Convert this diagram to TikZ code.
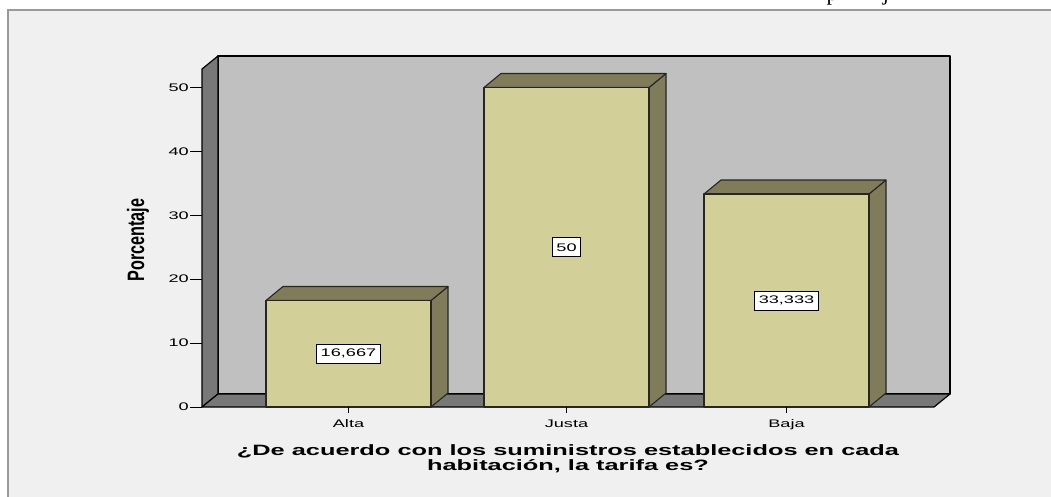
\documentclass[tikz,border=0pt]{standalone}
\usepackage{fontspec}
\setmainfont{Liberation Sans}
\newfontfamily\docserif{Liberation Serif}
\usepackage{graphicx}
\definecolor{bgfill}{HTML}{F0F0F0}
\definecolor{framegray}{HTML}{9A9A9A}
\definecolor{backwall}{HTML}{C0C0C0}
\definecolor{sidewall}{HTML}{787878}
\definecolor{barface}{HTML}{D3CF98}
\definecolor{barshade}{HTML}{807C5A}
\tikzset{
  wallpart/.style={draw=black, line width=1.2pt, line join=round},
  barfront/.style={fill=barface, draw=black!85, line width=1.1pt, line join=round},
  barside/.style={fill=barshade, draw=black!85, line width=1.1pt, line join=round},
  axistick/.style={draw=black, line width=1pt},
  ticklbl/.style={font=\fontsize{11}{13}\selectfont, inner sep=0pt},
  vallbl/.style={draw=black, fill=white, line width=0.8pt, font=\fontsize{11}{13}\selectfont,
                 inner xsep=4pt, inner ysep=0pt, minimum height=19pt},
  titlelbl/.style={font=\bfseries\fontsize{15}{16}\selectfont, inner sep=0pt, anchor=base},
}
\begin{document}
\begin{tikzpicture}[x=1pt,y=-1pt]
\useasboundingbox (0,0) rectangle (1051,497);
\clip (0,0) rectangle (1051,497);
\fill[white] (0,0) rectangle (1051,497);
% fragments of text above the chart
\node[font=\docserif\fontsize{22}{22}\selectfont, anchor=base, inner sep=0pt] (fragp) at (832,1) {p};
\node[font=\docserif\fontsize{22}{22}\selectfont, anchor=base, inner sep=0pt] (fragj) at (886,1) {j};
% chart frame
\draw[draw=framegray, line width=1.6pt, fill=bgfill] (8,10) rectangle (1080,530);
% walls
\draw[wallpart, fill=backwall] (218,56) rectangle (950,394);
\draw[wallpart, fill=sidewall] (202,407) -- (202,69) -- (218,56) -- (218,394) -- cycle;
\draw[wallpart, fill=sidewall] (202,407) -- (218,394) -- (950,394) -- (934,407) -- cycle;
% y axis ticks and labels
\foreach \v in {0,10,20,30,40,50}{
  \pgfmathsetmacro\yy{407-\v*6.39}
  \draw[axistick] (190,\yy) -- (202,\yy);
  \node[ticklbl, anchor=east] (y\v) at (189,\yy) {\scalebox{1.65}[1]{\v}};
}
% bars
\foreach \n/\xl/\v/\t/\c in {alta/266/16.667/{16,667}/Alta, justa/484/50/{50}/Justa, baja/704/33.333/{33,333}/Baja}{
  \pgfmathsetmacro\ytop{407-\v*6.39}
  \pgfmathsetmacro\ymid{407-\v*3.195}
  \pgfmathsetmacro\xr{\xl+165}
  \pgfmathsetmacro\xc{\xl+82.5}
  \draw[barside] (\xr,407) -- (\xr+17,393) -- (\xr+17,\ytop-14) -- (\xr,\ytop) -- cycle;
  \draw[barside] (\xl,\ytop) -- (\xl+17,\ytop-14) -- (\xr+17,\ytop-14) -- (\xr,\ytop) -- cycle;
  \draw[barfront] (\xl,\ytop) rectangle (\xr,407);
  \node[vallbl] (v-\n) at (\xc,\ymid) {\scalebox{1.65}[1]{\t}};
  \draw[axistick] (\xc,407) -- (\xc,413);
  \node[ticklbl, anchor=base] (c-\n) at (\xc,427) {\scalebox{1.65}[1]{\c}};
}
% axis titles
\node[font=\bfseries\fontsize{15}{16}\selectfont, inner sep=0pt, rotate=90] (ylab) at (138,240)
  {\scalebox{1.08}[1.58]{Porcentaje}};
\node[titlelbl] (title1) at (568,455)
  {\scalebox{1.69}[1]{¿De acuerdo con los suministros establecidos en cada}};
\node[titlelbl] (title2) at (568,470)
  {\scalebox{1.69}[1]{habitación, la tarifa es?}};
\end{tikzpicture}
\end{document}
